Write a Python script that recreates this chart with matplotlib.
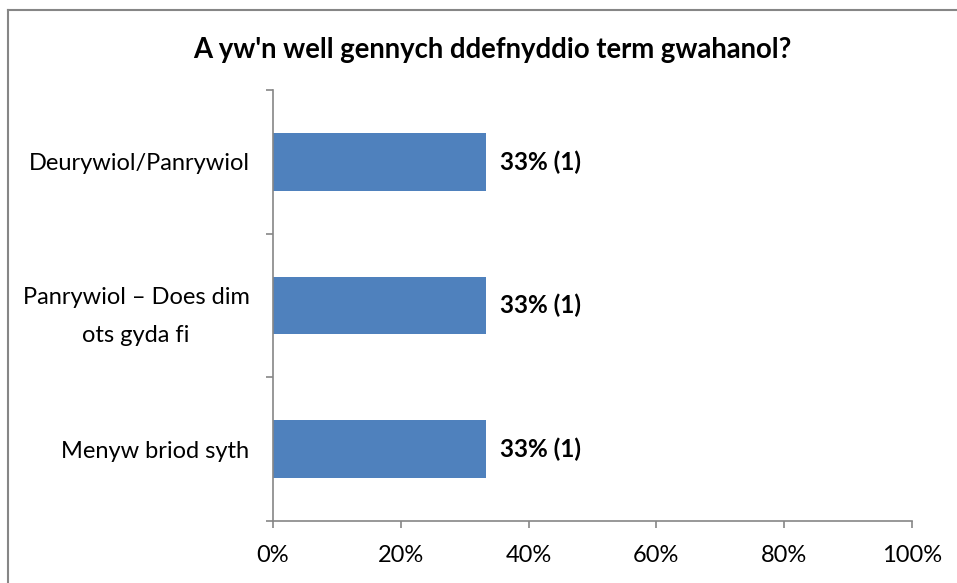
import matplotlib.pyplot as plt
from matplotlib.lines import Line2D

plt.rcParams['font.family'] = ['Lato', 'DejaVu Sans']

categories = ['Deurywiol/Panrywiol', 'Panrywiol – Does dim\nots gyda fi', 'Menyw briod syth']
percents = [33.33, 33.33, 33.33]
counts = [1, 1, 1]
xticks = [0, 20, 40, 60, 80, 100]

bar_color = '#4F81BD'
axis_color = '#868686'

fig = plt.figure(figsize=(9.57, 5.83), dpi=100)
ax = fig.add_axes([273 / 957, 1 - 521 / 583, (912 - 273) / 957, (521 - 90) / 583])

ypos = list(range(len(categories)))[::-1]
ax.barh(ypos, percents, height=0.4, color=bar_color)
for y, p, c in zip(ypos, percents, counts):
    ax.text(p + 2.2, y, f'{p:.0f}% ({c})', va='center', ha='left',
            fontsize=17.5, fontweight='bold')

ax.set_xlim(0, 100)
ax.set_ylim(-0.5, len(categories) - 0.5)
ax.set_xticks(xticks)
ax.set_xticklabels([f'{t}%' for t in xticks], fontsize=17)
ax.set_yticks(ypos)
ax.set_yticklabels(categories, fontsize=17)
for lab in ax.get_yticklabels():
    lab.set_multialignment('center')
    lab.set_linespacing(2.0)
ax.set_yticks([i - 0.5 for i in range(len(categories) + 1)], minor=True)
ax.tick_params(axis='y', which='major', length=0, pad=17)
ax.tick_params(axis='y', which='minor', length=5, width=1.2, color=axis_color, direction='out')
ax.tick_params(axis='x', length=5, width=1.2, color=axis_color, direction='out', pad=12)

for s in ['top', 'right']:
    ax.spines[s].set_visible(False)
for s in ['left', 'bottom']:
    ax.spines[s].set_color(axis_color)
    ax.spines[s].set_linewidth(1.2)

fig.text(492 / 957, 1 - 50 / 583, "A yw'n well gennych ddefnyddio term gwahanol?",
         ha='center', va='center', fontsize=19.8, fontweight='bold')

# outer chart border (only top and left visible in frame)
fig.add_artist(Line2D([8 / 957, 1.0], [1 - 10 / 583, 1 - 10 / 583], transform=fig.transFigure,
                      color=axis_color, lw=1.5))
fig.add_artist(Line2D([8 / 957, 8 / 957], [0, 1 - 10 / 583], transform=fig.transFigure,
                      color=axis_color, lw=1.5))

fig.savefig('out.png', dpi=100)
